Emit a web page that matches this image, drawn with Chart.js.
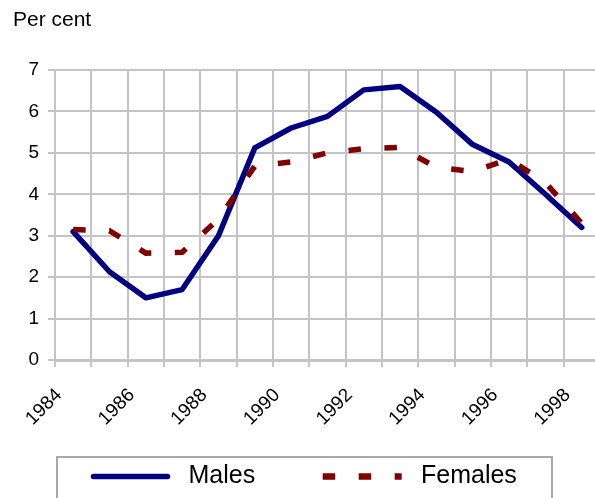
<!DOCTYPE html>
<html>
<head>
<meta charset="utf-8">
<script src="https://cdn.jsdelivr.net/npm/chart.js@4.4.0/dist/chart.umd.min.js"></script>
<style>
  html, body { margin: 0; padding: 0; background: #fff; width: 595px; height: 498px; overflow: hidden; }
  #wrap { position: absolute; left: 0; top: 0; width: 633px; height: 498px; }
</style>
</head>
<body>
<div id="wrap"><canvas id="c" width="633" height="498"></canvas></div>
<script>
// ---- data (annual values, plotted at mid-year) ----
const years = [1984, 1985, 1986, 1987, 1988, 1989, 1990, 1991, 1992, 1993, 1994, 1995, 1996, 1997, 1998];
const males = [3.1, 2.13, 1.5, 1.7, 3.0, 5.12, 5.6, 5.88, 6.52, 6.6, 5.98, 5.2, 4.78, 4.0, 3.2];
const females = [3.15, 3.12, 2.58, 2.6, 3.4, 4.68, 4.78, 5.0, 5.1, 5.13, 4.65, 4.55, 4.85, 4.28, 3.3];
const xTickLabels = ['1984', '1986', '1988', '1990', '1992', '1994', '1996', '1998'];
const yTickLabels = ['0', '1', '2', '3', '4', '5', '6', '7'];
const yTitle = 'Per cent';
const seriesNames = ['Males', 'Females'];

const FONT = "'Liberation Sans', Arial, Helvetica, sans-serif";
Chart.defaults.font.family = FONT;
Chart.defaults.color = '#000';

const GRID = '#c4c4c4';
const MALE_COLOR = '#000080';
const FEMALE_COLOR = '#800000';

function toPoints(vals) {
  return years.map((yr, i) => ({ x: yr + 0.5, y: vals[i] }));
}

const boxedLegend = {
  id: 'boxedLegend',
  afterDraw(chart) {
    const ctx = chart.ctx;
    ctx.save();
    ctx.strokeStyle = '#a8a8a8';
    ctx.lineWidth = 2;
    ctx.strokeRect(57, 457, 495, 60);
    const y = 476.5;
    const ds = chart.data.datasets;
    ctx.beginPath();
    ctx.strokeStyle = ds[0].borderColor;
    ctx.lineWidth = ds[0].borderWidth;
    ctx.lineCap = 'round';
    ctx.setLineDash([]);
    ctx.moveTo(93.5, y);
    ctx.lineTo(167.5, y);
    ctx.stroke();
    ctx.beginPath();
    ctx.strokeStyle = ds[1].borderColor;
    ctx.lineWidth = ds[1].borderWidth + 1;
    ctx.lineCap = 'butt';
    ctx.setLineDash(ds[1].borderDash);
    ctx.moveTo(322.7, y);
    ctx.lineTo(401.7, y);
    ctx.stroke();
    ctx.setLineDash([]);
    ctx.fillStyle = '#000';
    ctx.font = "25px " + FONT;
    ctx.textBaseline = 'middle';
    ctx.textAlign = 'left';
    ctx.fillText(ds[0].label, 188.5, y);
    ctx.fillText(ds[1].label, 421, y);
    ctx.restore();
  }
};

new Chart(document.getElementById('c'), {
  type: 'line',
  data: {
    datasets: [
      {
        label: seriesNames[0],
        data: toPoints(males),
        borderColor: MALE_COLOR,
        backgroundColor: MALE_COLOR,
        borderWidth: 5.5,
        borderCapStyle: 'round',
        borderJoinStyle: 'round',
        pointRadius: 0,
        tension: 0,
        fill: false,
        order: 2
      },
      {
        label: seriesNames[1],
        data: toPoints(females),
        borderColor: FEMALE_COLOR,
        backgroundColor: FEMALE_COLOR,
        borderWidth: 5.5,
        borderDash: [12.5, 23.5],
        borderCapStyle: 'butt',
        borderJoinStyle: 'miter',
        pointRadius: 0,
        tension: 0,
        fill: false,
        order: 1
      }
    ]
  },
  options: {
    responsive: false,
    animation: false,
    devicePixelRatio: 1,
    layout: { padding: { left: 13, right: 20.5, top: 0, bottom: 0 } },
    plugins: {
      legend: { display: false },
      tooltip: { enabled: false },
      title: {
        display: true,
        text: yTitle,
        align: 'start',
        color: '#000',
        font: { family: FONT, size: 21, weight: 'normal' },
        padding: { top: 8, bottom: 36.8 }
      }
    },
    scales: {
      x: {
        type: 'linear',
        min: 1984,
        max: 1999,
        ticks: {
          stepSize: 1,
          autoSkip: false,
          minRotation: 45,
          maxRotation: 45,
          padding: 17,
          labelOffset: 4,
          color: '#000',
          font: { family: FONT, size: 19 },
          callback: (v) => xTickLabels.includes(String(v)) ? String(v) : ''
        },
        grid: { color: GRID, lineWidth: 2, tickLength: 7, drawTicks: true },
        border: { color: GRID, width: 3 },
        afterFit: (s) => { s.height = 138; }
      },
      y: {
        min: 0,
        max: 7,
        ticks: {
          stepSize: 1,
          padding: 9,
          color: '#000',
          font: { family: FONT, size: 19 },
          callback: (v) => yTickLabels[v]
        },
        grid: { color: GRID, lineWidth: 2, tickLength: 7 },
        border: { color: GRID, width: 2 },
        afterFit: (s) => { s.width = 42; }
      }
    }
  },
  plugins: [boxedLegend]
});
</script>
</body>
</html>
